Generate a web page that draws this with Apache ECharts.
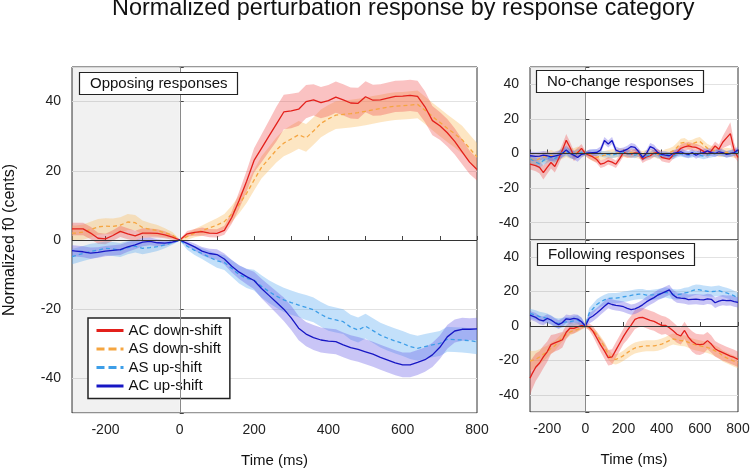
<!DOCTYPE html>
<html><head><meta charset="utf-8">
<script src="https://cdn.jsdelivr.net/npm/echarts@6/dist/echarts.min.js"></script>
<style>html,body{margin:0;padding:0;background:#fff}#c{width:750px;height:470px}</style>
</head><body><div id="c"></div><script>
// time samples (ms)
const T = [-290,-280,-260,-240,-220,-200,-180,-160,-140,-120,-100,-80,-60,-40,-20,
  0,
  20,40,60,80,100,120,140,160,180,200,
  220,240,260,280,300,320,340,360,380,400,
  420,440,460,480,500,520,540,560,580,600,
  620,640,660,680,700,720,740,760,780,800];

const NAMES = ['AC down-shift','AS down-shift','AS up-shift','AC up-shift'];
const PANEL_TITLES = ['Opposing responses','No-change responses','Following responses'];
const SHADE = [-290, 0];

// ---- Opposing responses ----
const oppACdown = [3.2,3.2,3.2,2.0,0.5,0.3,1.3,2.5,1.8,1.2,2.0,2.0,1.9,1.5,0.8,
  0,
  1.8,2.2,2.4,2.0,1.9,2.8,6.5,11.5,17,23,
  26.5,30,33.5,37,37.3,37.8,40,40.5,39.7,40.3,
  41.3,40.5,39.6,39.5,41.4,40.4,40.5,41,41.5,41.6,
  41.8,41.5,38.5,34.5,33,31,28.5,25.5,22.5,20.4];
const oppACdownSem = [1.8,1.8,1.8,1.8,1.6,1.5,1.5,1.6,1.6,1.5,1.4,1.3,1.2,1.0,0.7,
  0.2,
  0.8,1.0,1.2,1.2,1.2,1.3,1.8,2.5,3.0,3.5,
  4.0,4.5,5.0,5.0,5.0,4.8,4.8,4.5,4.5,4.5,
  4.5,4.5,4.5,4.5,4.5,4.5,4.5,4.5,4.5,4.5,
  4.5,4.5,4.5,4.2,4.0,4.0,3.8,3.6,3.4,3.2];
const oppASdown = [2.0,2.0,2.3,3.0,3.8,4.0,3.9,4.3,5.2,5.0,3.6,3.1,2.7,2.1,1.4,
  0,
  1.0,2.0,2.7,3.5,4.3,5.3,7.5,10.3,13.5,17.3,
  21,23.5,26,28,29.2,30.4,29.5,31.5,33.7,35,
  36.1,36.3,36.5,36.8,37.2,37.6,38,38.4,38.7,38.8,
  39,39.2,37.5,35.7,34,32.3,30.7,29,26.5,24];
const oppASdownSem = [2.2,2.2,2.2,2.3,2.3,2.3,2.3,2.3,2.3,2.2,2.0,1.8,1.6,1.3,0.9,
  0.2,
  0.9,1.2,1.5,1.8,2.0,2.2,2.4,2.6,2.8,3.0,
  3.2,3.4,3.6,3.8,4,4,4,4,4,4,
  4,4,4,4,4,4,4,4,4,4,
  4,4,4,4,4,4,4,4,4,4];
const oppASup = [-4.8,-4.5,-3.9,-3.3,-2.9,-2.4,-2.6,-2.9,-2.2,-1.8,-2.4,-2.2,-1.9,-1.4,-0.8,
  0,
  -1.8,-3.0,-3.9,-5.0,-6.0,-6.5,-8.2,-10,-11.1,-11.6,
  -13.4,-14.9,-16.2,-17.3,-18.1,-18.8,-19.5,-20.2,-21.5,-22.6,
  -23.1,-23.6,-25.2,-26,-24.9,-26.2,-27.5,-28.4,-29.2,-29.9,
  -30.8,-31.3,-30.8,-30.3,-29.9,-28.7,-28.8,-28.9,-29.1,-29.4];
const oppASupSem = [2.2,2.2,2.2,2.2,2.1,2.0,2.0,2.0,1.9,1.8,1.7,1.5,1.3,1.0,0.6,
  0.2,
  1.0,1.3,1.6,1.8,2.0,2.2,2.4,2.6,2.8,3.0,
  3.2,3.3,3.4,3.5,3.5,3.5,3.6,3.6,3.6,3.6,
  3.6,3.6,3.6,3.6,3.6,3.6,3.6,3.6,3.6,3.6,
  3.6,3.6,3.6,3.6,3.6,3.6,3.6,3.6,3.6,3.6];
const oppACup = [-3.1,-3.2,-3.4,-3.8,-3.6,-3.2,-3.0,-2.8,-2.0,-1.4,-0.6,-0.4,-0.8,-0.9,-0.6,
  0,
  -1.0,-2.0,-3.2,-3.9,-4.2,-5.5,-7.6,-9.3,-10.6,-11.7,
  -14,-16,-18,-20,-22.5,-25.5,-27.2,-28.2,-28.9,-29.2,
  -29.4,-30.3,-31.1,-31.6,-32.3,-33,-33.9,-34.7,-35.5,-36.1,
  -36.1,-35.4,-34.6,-33.2,-31,-28,-26.3,-25.8,-25.8,-25.7];
const oppACupSem = [1.6,1.6,1.6,1.6,1.5,1.5,1.5,1.5,1.4,1.3,1.2,1.1,1.0,0.8,0.5,
  0.2,
  0.8,1.0,1.2,1.4,1.5,1.6,1.8,2.0,2.2,2.5,
  2.8,3.0,3.2,3.4,3.5,3.5,3.5,3.6,3.6,3.6,
  3.6,3.6,3.6,3.6,3.6,3.6,3.6,3.6,3.6,3.6,
  3.6,3.6,3.5,3.5,3.4,3.4,3.3,3.3,3.2,3.2];

// ---- No-change responses ----
const ncACdown = [-6.2,-6.5,-7,-8,-11,-8,-5.2,-7.5,-3,2,7.7,3.5,-1.5,0.5,3,
  0,
  -1,-2,-3.5,-6.2,-5.5,-4.2,-5,-6.2,-3,0.6,
  -0.2,-0.4,0.4,0.2,-3.3,-2,-1.3,0.2,0.6,-2.3,
  -2.8,-3.3,-1,0.6,3,3.8,4.4,3.8,3.5,2.5,
  1.2,-0.4,1.5,4.4,2.5,6.5,9,11.5,2,-2.3];
const ncACdownSem = [3,3,3.2,3.5,4,3.8,3.5,3.5,3.5,3.5,3.5,3.2,3,2.8,2.5,
  1.5,
  2.2,2.2,2.2,2.2,2.2,2.2,2.2,2.2,2.2,2.2,
  2.2,2.2,2.2,2.2,2.2,2.2,2.2,2.2,2.2,2.2,
  2.2,2.2,2.2,2.2,2.2,2.2,2.2,2.2,2.2,2.2,
  2.2,2.2,2.2,2.5,2.5,3.5,5,6.5,4,2.5];
const ncASdown = [-3,-3,-4,-3,-2,-2,-1,-2,-1,0,1,0,0,1,0.5,
  0,
  -0.5,-2,-2.3,-1.5,-1,-0.5,0,0,0.5,0.3,
  0,0.5,0,-0.5,-1,-0.5,0,0.3,-0.5,-1,
  0,0.5,1.5,3.5,6,6.5,5,5.5,6.5,7,
  5,3,2,1.5,0.5,0.5,0.8,0.5,0,0];
const ncASdownSem = [3,3,3,3,3,3,3,3,3,3,3,3,3,3,2.5,
  1.5,
  2.5,2.5,2.5,2.5,2.5,2.5,2.5,2.5,2.5,2.5,
  2.5,2.5,2.5,2.5,2.5,2.5,2.5,2.5,2.5,2.5,
  2.5,2.5,2.5,2.5,2.5,2.5,2.5,2.5,2.5,2.5,
  2.5,2.5,2.5,2.5,2.5,2.5,2.5,2.5,2.5,2.5];
const ncASup = [-3,-3.5,-5,-6,-4,-3,-2,-3,-1,0.5,1,0,-1,0,0.5,
  0,
  0.3,0.5,0.5,0,-0.5,-0.5,-1,-0.3,0,0.5,
  0,-0.5,-1,0,-2,-1.5,-0.5,0,-1,-1,
  -0.5,-1,-1.5,-0.5,0,-0.5,-1,-0.5,0,-1,
  -1.5,-1,-0.5,0,0.5,0,-0.5,0,0.5,0.5];
const ncASupSem = [2.5,2.5,2.5,2.5,2.5,2.5,2.5,2.5,2.5,2.5,2.5,2.5,2.5,2.5,2,
  1,
  1.8,1.8,1.8,1.8,1.8,1.8,1.8,1.8,1.8,1.8,
  1.8,1.8,1.8,1.8,1.8,1.8,1.8,1.8,1.8,1.8,
  1.8,1.8,1.8,1.8,1.8,1.8,1.8,1.8,1.8,1.8,
  1.8,1.8,1.8,1.8,1.8,1.8,1.8,1.8,1.8,1.8];
const ncACup = [-1.3,-1.5,-1.7,-1.5,-1,-1.3,-2,-1.5,-1,0,2.1,0,-1,-2.3,-0.5,
  0,
  0.3,0.5,0.6,2,7.5,5.5,7.5,2,1,1.5,
  2.5,4,3.5,1,-2.3,0,4,3,0.5,-0.5,
  -1,-1.3,0,0.5,1,0,-0.5,0.5,-1,0,
  0.5,1.5,0.5,0,1,0.5,-0.5,0,0.5,2.1];
const ncACupSem = [2.5,2.5,2.5,2.5,2.5,2.5,2.5,2.5,2.5,2.5,2.5,2.5,2.5,2.5,2,
  1,
  2,2,2,2,2,2,2,2,2,2,
  2,2,2,2,2,2,2,2,2,2,
  2,2,2,2,2,2,2,2,2,2,
  2,2,2,2,2,2,2,2,2,2];

// ---- Following responses ----
const flACdown = [-30.3,-28,-24,-21.5,-18,-15,-10.8,-9.8,-9,-8,-3.6,-1.2,-1.4,-0.5,0.2,
  0,
  -0.5,-3,-7,-11,-14.5,-18.4,-18,-14,-10,-6,
  -2.5,0.5,3.8,4.8,5,4.2,3.3,2.7,1.5,0.4,
  0.4,-1,-2.8,-4.8,-5.8,-2.6,-6.5,-9,-10.5,-10.8,
  -10.5,-8.5,-10.5,-13.2,-14.5,-15.5,-16.5,-17.5,-18.3,-19.4];
const flACdownSem = [10,9,8,7,6.5,6,5.5,5,5,4.5,4,3.5,3,2.5,2,
  1,
  2,3,3.5,4,4.5,4.5,4.5,4.5,4.5,4.5,
  5.5,5.5,5.5,5.5,5.5,5.5,5.5,5.5,5.5,5.5,
  5,5,5,5,5,5,5.5,6,6,6,
  5.5,5,5,4.5,4.5,4.5,4.5,4.5,4.5,4.5];
const flASdown = [-20.4,-20,-19.4,-18,-16.4,-15,-13,-11.5,-9,-6.5,-5,-3.5,-2.6,-2,-1,
  0,
  -1,-2.6,-5,-8.5,-12,-16.5,-19,-19.4,-18.5,-17.2,
  -15.5,-14,-12.8,-12.2,-11.8,-11.5,-11.5,-11.5,-11.2,-10.5,
  -9.6,-8.5,-7.5,-8,-8.5,-8.6,-9.5,-10.5,-11,-11.5,
  -12,-12.5,-13.3,-14.5,-15.5,-17.4,-18.5,-19.5,-20.5,-21.4];
const flASdownSem = [6,5.5,5,4.5,4,3.5,3.2,3,2.8,2.5,2.2,2,1.8,1.5,1.2,
  0.8,
  1.2,1.5,2,2.5,2.8,3,3,3,3,3,
  3.2,3.2,3.2,3.2,3.2,3.2,3.2,3.2,3.2,3.2,
  3.2,3.2,3.2,3.2,3.2,3.2,3.2,3.2,3.2,3.2,
  3.2,3.2,3.2,3.2,3.2,3.2,3.2,3.2,3.2,3.2];
const flASup = [7.3,7,6.3,5.5,5,4.4,3.5,2,1.5,2,2.4,2.5,3,3.4,2,
  0,
  7.5,10,12.5,14,15.2,16,16.2,16.2,16.5,17,
  17.3,17.8,18.2,18.5,18.5,18,18,18.2,18.5,19,
  19.6,19,18.5,18.2,18.5,19.2,19.5,20.5,21.2,21,
  20.5,20.2,20,20.2,20.5,19.8,19.2,18.5,17.5,16.2];
const flASupSem = [2.8,2.8,2.8,2.8,2.8,2.8,2.8,2.8,2.8,2.8,2.8,2.8,2.8,2.8,2.8,
  1,
  3,3,3,3,3,3,3,3,3,3,
  3,3,3,3,3,3,3,3,3,3,
  3,3,3,3,3,3,3,3,3,3,
  3,3,3,3,3,3,3,3,3,3];
const flACup = [6.3,5.8,5,3.5,3,4.4,3.5,2,0.8,2,4.2,3.8,4.4,4,2.5,
  0,
  4.5,5.8,7.5,9.5,11.5,13.3,12.5,12,11.7,11.2,
  10.3,9.5,10,11,12.3,14,15.3,16.5,18,19,
  20,21,18,16.5,16.2,16,15.3,15.5,15.6,15.3,
  15.2,15.8,15.5,13.5,14.5,15,14.8,14.9,14.2,13.7];
const flACupSem = [2.5,2.5,2.5,2.5,2.5,2.5,2.5,2.5,2.5,2.5,2.5,2.5,2.5,2.5,2.5,
  1,
  3,3,3,3,3,3,3,3,3,3,
  3,3,3,3,3,3,3,3,3,3,
  3,3,3,3,3,3,3,3,3,3,
  3,3,3,3,3,3,3,3,3,3];

const FONT = 'Liberation Sans, Arial, Helvetica, sans-serif';
const LINE_COLORS = ['#e3201b', '#f5a540', '#3d9ee8', '#1616c4'];
const BAND_COLORS = ['rgba(240,70,70,0.33)', 'rgba(250,185,90,0.36)', 'rgba(90,170,240,0.36)', 'rgba(105,95,230,0.36)'];
const DASHED = [false, true, true, false];

const panels = [
  [[oppACdown,oppACdownSem],[oppASdown,oppASdownSem],[oppASup,oppASupSem],[oppACup,oppACupSem]],
  [[ncACdown,ncACdownSem],[ncASdown,ncASdownSem],[ncASup,ncASupSem],[ncACup,ncACupSem]],
  [[flACdown,flACdownSem],[flASdown,flASdownSem],[flASup,flASupSem],[flACup,flACupSem]]
];
const DRAW_ORDER = [1, 0, 2, 3];

function bandSeries(mean, sem, color, gi) {
  return {
    type: 'custom', xAxisIndex: gi, yAxisIndex: gi, silent: true, z: 1, clip: true,
    data: T.map((t, i) => [t, mean[i]]),
    renderItem(params, api) {
      if (params.dataIndex !== 0) return null;
      const up = T.map((t, i) => api.coord([t, mean[i] + sem[i]]));
      const lo = T.map((t, i) => api.coord([t, mean[i] - sem[i]])).reverse();
      return { type: 'polygon', shape: { points: up.concat(lo) }, style: { fill: color } };
    }
  };
}
function lineSeries(k, mean, gi) {
  return {
    name: NAMES[k], type: 'line', xAxisIndex: gi, yAxisIndex: gi, symbol: 'none', silent: true, z: 3,
    lineStyle: { color: LINE_COLORS[k], width: 1.3, type: DASHED[k] ? [4, 3] : 'solid' },
    itemStyle: { color: LINE_COLORS[k] },
    data: T.map((t, i) => [t, mean[i]])
  };
}

const series = [];
panels.forEach((p, gi) => {
  series.push({
    type: 'line', xAxisIndex: gi, yAxisIndex: gi, data: [], silent: true, z: 0,
    markArea: { silent: true, itemStyle: { color: 'rgba(0,0,0,0.055)' }, data: [[{ xAxis: SHADE[0] }, { xAxis: SHADE[1] }]] }
  });
  DRAW_ORDER.forEach(k => series.push(bandSeries(p[k][0], p[k][1], BAND_COLORS[k], gi)));
  series.push({
    type: 'line', xAxisIndex: gi, yAxisIndex: gi, data: [], silent: true, z: 2,
    markLine: { silent: true, symbol: 'none', label: { show: false }, animation: false,
      data: [
        { xAxis: 0, lineStyle: { color: '#8a8a8a', width: 1, type: 'solid' } },
        { yAxis: 0, lineStyle: { color: '#333', width: 1, type: 'solid' } }
      ] }
  });
  DRAW_ORDER.forEach(k => series.push(lineSeries(k, p[k][0], gi)));
});

const grids = [
  { left: 72, top: 67, width: 405, height: 346 },
  { left: 530, top: 67, width: 208, height: 173 },
  { left: 530, top: 240, width: 208, height: 172 }
].map(g => Object.assign(g, { show: true, borderColor: '#333', borderWidth: 1, backgroundColor: 'transparent',
  containLabel: false, outerBoundsMode: 'none' }));

const tick = { show: true, inside: true, length: 4, lineStyle: { color: '#444' } };
const labelStyle = { color: '#222', fontSize: 14, fontFamily: FONT };

function xAxis(gi, showLabels, splitNumber, every, name) {
  return {
    type: 'value', gridIndex: gi, min: -290, max: 800, splitNumber,
    axisLine: { show: false }, axisTick: tick, splitLine: { show: false },
    axisLabel: Object.assign({ show: showLabels, margin: 10,
      formatter: v => (v % every === 0 ? String(v) : '') }, labelStyle),
    name, nameLocation: 'middle', nameGap: 40,
    nameTextStyle: { color: '#111', fontSize: 15, fontFamily: FONT }
  };
}
function yAxis(gi, name) {
  return {
    type: 'value', gridIndex: gi, min: -50, max: 50, splitNumber: 5,
    axisLine: { show: false }, axisTick: tick,
    splitLine: { show: true, lineStyle: { color: '#e2e2e2', width: 1 } },
    axisLabel: Object.assign({ margin: 11, formatter: v => (Math.abs(v) === 50 ? '' : String(v)) }, labelStyle),
    name, nameLocation: 'middle', nameGap: 54,
    nameTextStyle: { color: '#111', fontSize: 16, fontFamily: FONT }
  };
}

function boxTitle(text, left, top) {
  return { text, left, top, padding: [4, 10, 4, 11], borderColor: '#222', borderWidth: 1.2,
    backgroundColor: '#fff', textStyle: { fontSize: 15, fontWeight: 'normal', color: '#111', fontFamily: FONT } };
}

const option = {
  animation: false,
  backgroundColor: '#fff',
  title: [
    { text: 'Normalized perturbation response by response category', left: 112, top: -3, padding: 0,
      textStyle: { fontSize: 23.4, fontWeight: 'normal', color: '#111', fontFamily: FONT } },
    boxTitle(PANEL_TITLES[0], 79, 72),
    boxTitle(PANEL_TITLES[1], 536, 70),
    boxTitle(PANEL_TITLES[2], 537, 243)
  ],
  legend: {
    left: 88, top: 318, orient: 'vertical', itemWidth: 27, itemHeight: 14, itemGap: 3.5,
    padding: [5, 8, 5, 7], borderColor: '#222', borderWidth: 1.5, backgroundColor: '#fff',
    selectedMode: false,
    itemStyle: { opacity: 0 },
    textStyle: { fontSize: 15, color: '#111', fontFamily: FONT },
    data: [
      { name: NAMES[0], itemStyle: { opacity: 0 }, lineStyle: { width: 3, type: 'solid' } },
      { name: NAMES[1], itemStyle: { opacity: 0 }, lineStyle: { width: 3, type: [8, 4] } },
      { name: NAMES[2], itemStyle: { opacity: 0 }, lineStyle: { width: 3, type: [8, 4] } },
      { name: NAMES[3], itemStyle: { opacity: 0 }, lineStyle: { width: 3, type: 'solid' } }
    ]
  },
  grid: grids,
  xAxis: [xAxis(0, true, 10, 200, 'Time (ms)'), xAxis(1, false, 5, 200, ''), xAxis(2, true, 5, 200, 'Time (ms)')],
  yAxis: [yAxis(0, 'Normalized f0 (cents)'), yAxis(1, ''), yAxis(2, '')],
  series
};

const chart = echarts.init(document.getElementById('c'));
chart.setOption(option);
</script></body></html>
